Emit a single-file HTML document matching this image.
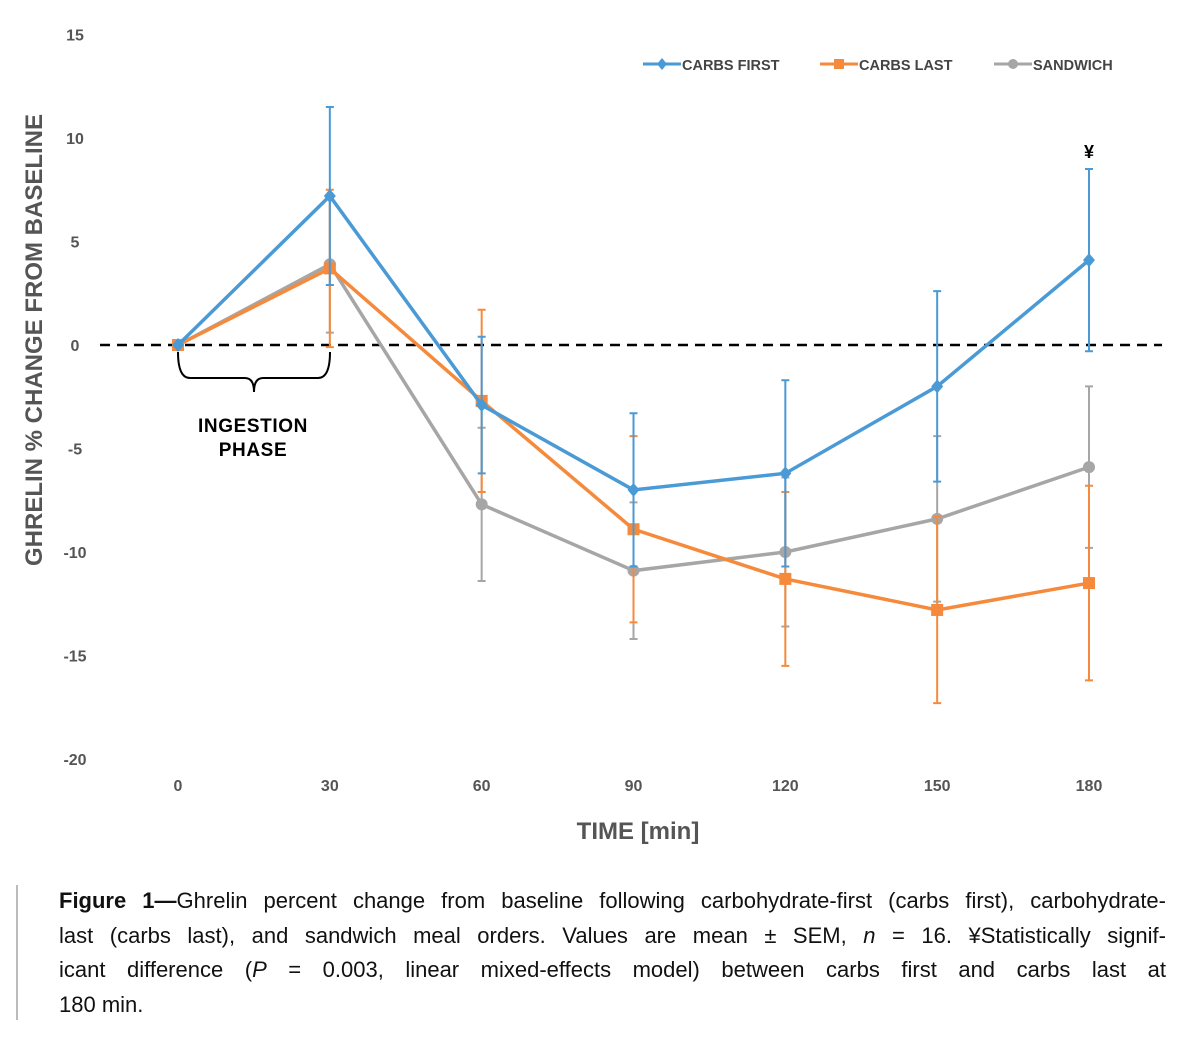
<!DOCTYPE html>
<html><head><meta charset="utf-8">
<style>
body{margin:0;background:#fff;width:1200px;height:1055px;overflow:hidden;font-family:"Liberation Sans",sans-serif;}
#cap{position:absolute;left:59px;top:884px;width:1107px;font-size:22px;line-height:34.5px;color:#111;}
#cap div{text-align:justify;text-align-last:justify;white-space:nowrap;overflow:visible;letter-spacing:0px;}
#cap div.last{text-align-last:left;}
</style></head><body>
<svg id="chart" width="1200" height="870" style="position:absolute;left:0;top:0"></svg>
<div style="position:absolute;left:16px;top:885px;width:2px;height:135px;background:#bbb"></div>
<div id="cap">
<div><b>Figure 1—</b>Ghrelin percent change from baseline following carbohydrate-first (carbs first), carbohydrate-</div>
<div>last (carbs last), and sandwich meal orders. Values are mean ± SEM, <i>n</i> = 16. ¥Statistically signif-</div>
<div>icant difference (<i>P</i> = 0.003, linear mixed-effects model) between carbs first and carbs last at</div>
<div class="last">180 min.</div>
</div>
<script>
const times=[0,30,60,90,120,150,180];
const yTicks=[15,10,5,0,-5,-10,-15,-20];
const carbsFirst=[0,7.2,-2.9,-7.0,-6.2,-2.0,4.1];
const carbsFirstErr=[0,4.3,3.3,3.7,4.5,4.6,4.4];
const carbsLast=[0,3.7,-2.7,-8.9,-11.3,-12.8,-11.5];
const carbsLastErr=[0,3.8,4.4,4.5,4.2,4.5,4.7];
const sandwich=[0,3.9,-7.7,-10.9,-10.0,-8.4,-5.9];
const sandwichErr=[0,3.3,3.7,3.3,3.6,4.0,3.9];
const NS='http://www.w3.org/2000/svg';
const svg=document.getElementById('chart');
const x=t=>178+t*(1089-178)/180;
const y=v=>345-v*20.7;
function mk(tag,attrs,parent){const e=document.createElementNS(NS,tag);for(const k in attrs)e.setAttribute(k,attrs[k]);(parent||svg).appendChild(e);return e;}
yTicks.forEach(v=>{const t=mk('text',{x:75,y:y(v)+6,'text-anchor':'middle','font-size':16,'font-weight':'bold',fill:'#555'});t.textContent=v;

});
times.forEach(v=>{const t=mk('text',{x:x(v),y:791,'text-anchor':'middle','font-size':16,'font-weight':'bold',fill:'#555'});t.textContent=v;

});
let yt=mk('text',{x:0,y:0,transform:'translate(42,340) rotate(-90)','text-anchor':'middle','font-size':24,'font-weight':'bold',fill:'#555'});yt.textContent='GHRELIN % CHANGE FROM BASELINE';


let xt=mk('text',{x:638,y:839,'text-anchor':'middle','font-size':24,'font-weight':'bold',fill:'#555'});xt.textContent='TIME [min]';


let zl=mk('line',{x1:100,x2:1162,y1:y(0),y2:y(0),stroke:'#000','stroke-width':2.5,'stroke-dasharray':'10,7'});


let br=mk('path',{d:`M178,352 Q178,378 190,378 L245,378 Q254,378 254,392 Q254,378 263,378 L318,378 Q330,378 330,352`,fill:'none',stroke:'#000','stroke-width':2});


['INGESTION','PHASE'].forEach((s,i)=>{const t=mk('text',{x:253,y:432+i*24,'text-anchor':'middle','font-size':19,'font-weight':'bold','letter-spacing':0.6,fill:'#000'});t.textContent=s;

});
const series=[
 {vals:sandwich,err:sandwichErr,c:'#a6a6a6',m:'circle',name:'sandwich'},
 {vals:carbsLast,err:carbsLastErr,c:'#f58a3c',m:'square',name:'carbs-last'},
 {vals:carbsFirst,err:carbsFirstErr,c:'#4a9ad6',m:'diamond',name:'carbs-first'}];
function marker(s,cx,cy,g,sz){
 let e;
 if(s.m==='circle')e=mk('circle',{cx,cy,r:sz,fill:s.c},g);
 else if(s.m==='square')e=mk('rect',{x:cx-sz,y:cy-sz,width:sz*2,height:sz*2,fill:s.c},g);
 else e=mk('polygon',{points:`${cx},${cy-sz-1} ${cx+sz},${cy} ${cx},${cy+sz+1} ${cx-sz},${cy}`,fill:s.c},g);
 return e;}
series.forEach(s=>{
 const g=mk('g',{});
 
 
 s.vals.forEach((v,i)=>{if(!s.err[i])return;const X=x(times[i]);
  const l=mk('path',{d:`M${X},${y(v+s.err[i])}V${y(v-s.err[i])}M${X-4},${y(v+s.err[i])}h8M${X-4},${y(v-s.err[i])}h8`,stroke:s.c,'stroke-width':2,fill:'none'},g);
  
  });
 const pl=mk('polyline',{points:s.vals.map((v,i)=>x(times[i])+','+y(v)).join(' '),fill:'none',stroke:s.c,'stroke-width':3.5},g);
 
 
 s.vals.forEach((v,i)=>{const m=marker(s,x(times[i]),y(v),g,6);
  
  });
});
const leg=[[series[2],'CARBS FIRST',643],[series[1],'CARBS LAST',820],[series[0],'SANDWICH',994]];
leg.forEach(([s,lab,lx])=>{const g=mk('g',{});
 
 
 mk('line',{x1:lx,x2:lx+38,y1:64,y2:64,stroke:s.c,'stroke-width':3},g);
 marker(s,lx+19,64,g,5);
 const t=mk('text',{x:lx+39,y:70,'font-size':14.5,'font-weight':'bold',fill:'#444'},g);t.textContent=lab;});
let yen=mk('text',{x:1089,y:158,'text-anchor':'middle','font-size':18,'font-weight':'bold',fill:'#000'});yen.textContent='¥';


</script>
</body></html>
